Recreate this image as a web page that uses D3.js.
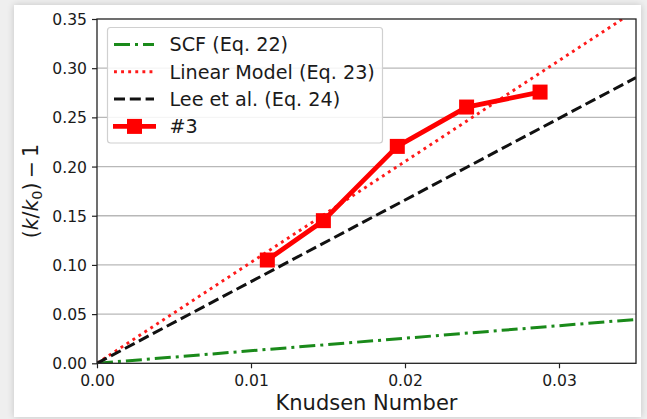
<!DOCTYPE html>
<html>
<head>
<meta charset="utf-8">
<script src="https://cdn.jsdelivr.net/npm/d3@7"></script>
<style>
  html, body { margin: 0; padding: 0; background: #efefef; }
  #wrap { position: relative; width: 647px; height: 419px; overflow: hidden; }
  #panel { position: absolute; left: 14px; top: 5px; width: 627px; height: 412px;
           background: #fff; box-shadow: 0 0 7px rgba(0,0,0,0.18); }
  svg { position: absolute; left: 0; top: 0; font-family: "DejaVu Sans", sans-serif; }
</style>
</head>
<body>
<div id="wrap"><div id="panel"></div></div>
<script>
// data
const measKn = [0.01106, 0.0147, 0.0195, 0.0240, 0.02877];
const measK = [0.105, 0.145, 0.2205, 0.2605, 0.2757];
const modelKn = [0, 0.035];
const scfK = [0, 0.0446];
const linearK = [0, 0.359];
const leeK = [0, 0.2905];
const xTicks = [0, 0.01, 0.02, 0.03];
const yTicks = [0, 0.05, 0.1, 0.15, 0.2, 0.25, 0.3, 0.35];
const legendLabels = ["SCF (Eq. 22)", "Linear Model (Eq. 23)", "Lee et al. (Eq. 24)", "#3"];

const W = 647, H = 419;
const PLOT = { LEFT: 97, RIGHT: 636, TOP: 19, BOTTOM: 363.3 };

const svg = d3.select("#wrap").append("svg").attr("width", W).attr("height", H);

const x = d3.scaleLinear().domain([0, 0.035]).range([PLOT.LEFT, PLOT.RIGHT]);
const y = d3.scaleLinear().domain([0, 0.35]).range([PLOT.BOTTOM, PLOT.TOP]);

svg.append("clipPath").attr("id", "clip")
  .append("rect")
  .attr("x", PLOT.LEFT).attr("y", PLOT.TOP)
  .attr("width", PLOT.RIGHT - PLOT.LEFT).attr("height", PLOT.BOTTOM - PLOT.TOP);

// GRID (horizontal only)
svg.append("g")
  .selectAll("line")
  .data(yTicks.slice(1, -1))
  .enter()
  .append("line")
  .attr("x1", PLOT.LEFT).attr("x2", PLOT.RIGHT)
  .attr("y1", d => y(d)).attr("y2", d => y(d))
  .attr("stroke", "#b8b8b8").attr("stroke-width", 1.3);

// AXES
const xAxis = d3.axisBottom(x).tickValues(xTicks).tickFormat(d3.format(".2f")).tickSize(5).tickSizeOuter(0);
const yAxis = d3.axisLeft(y).tickValues(yTicks).tickFormat(d3.format(".2f")).tickSize(5).tickSizeOuter(0);

const gx = svg.append("g").attr("transform", `translate(0, ${PLOT.BOTTOM})`).call(xAxis);
const gy = svg.append("g").attr("transform", `translate(${PLOT.LEFT}, 0)`).call(yAxis);
[gx, gy].forEach(g => {
  g.select(".domain").remove();
  g.selectAll("line").attr("stroke", "#222").attr("stroke-width", 1.2);
  g.selectAll("text").attr("fill", "#1a1a1a").attr("font-size", 15.6)
    .attr("font-family", "DejaVu Sans, sans-serif");
});
gx.selectAll("text").attr("y", 8).attr("dy", "0.95em");
gy.selectAll("text").attr("x", -10).attr("dy", "0.36em");

// MODEL LINES
const line = d3.line().x(d => x(d[0])).y(d => y(d[1]));
const styles = [
  { vals: scfK, color: "#1a8a1a", width: 3, dash: "16,5,3,5" },
  { vals: linearK, color: "#ff1a1a", width: 2.9, dash: "2.9,4.2" },
  { vals: leeK, color: "#111", width: 3, dash: "11,4.8" }
];

const plot = svg.append("g").attr("clip-path", "url(#clip)");
plot.selectAll(".model")
  .data(styles)
  .enter()
  .append("path")
  .attr("class", "model")
  .attr("fill", "none")
  .attr("stroke", d => d.color)
  .attr("stroke-width", d => d.width)
  .attr("stroke-dasharray", d => d.dash)
  .attr("d", d => line(modelKn.map((k, i) => [k, d.vals[i]])));

// MEASURED #3
const meas = measKn.map((k, i) => [k, measK[i]]);
plot.append("path")
  .attr("fill", "none")
  .attr("stroke", "#ff0000")
  .attr("stroke-width", 4.8)
  .attr("stroke-linejoin", "round")
  .attr("d", line(meas));

const MS = 15;
svg.selectAll(".marker")
  .data(meas)
  .enter()
  .append("rect")
  .attr("class", "marker")
  .attr("x", d => x(d[0]) - MS / 2)
  .attr("y", d => y(d[1]) - MS / 2)
  .attr("width", MS).attr("height", MS)
  .attr("fill", "#ff0000");

// FRAME
svg.append("rect")
  .attr("x", PLOT.LEFT).attr("y", PLOT.TOP)
  .attr("width", PLOT.RIGHT - PLOT.LEFT).attr("height", PLOT.BOTTOM - PLOT.TOP)
  .attr("fill", "none").attr("stroke", "#222").attr("stroke-width", 1.3);

// LEGEND
const leg = svg.append("g");
leg.append("rect")
  .attr("x", 107.5).attr("y", 27.5).attr("width", 275).attr("height", 115.5)
  .attr("rx", 3)
  .attr("fill", "#fff").attr("fill-opacity", 0.85)
  .attr("stroke", "#d0d0d0").attr("stroke-width", 1.2);

const rowY = i => 44.5 + i * 27.3;
leg.selectAll(".hl")
  .data(styles)
  .enter()
  .append("line")
  .attr("x1", 114).attr("x2", 154)
  .attr("y1", (d, i) => rowY(i)).attr("y2", (d, i) => rowY(i))
  .attr("stroke", d => d.color)
  .attr("stroke-width", d => d.width)
  .attr("stroke-dasharray", d => d.dash);
leg.append("line")
  .attr("x1", 113).attr("x2", 156)
  .attr("y1", rowY(3)).attr("y2", rowY(3))
  .attr("stroke", "#ff0000").attr("stroke-width", 4.8);
leg.append("rect")
  .attr("x", 134.5 - MS / 2).attr("y", rowY(3) - MS / 2)
  .attr("width", MS).attr("height", MS).attr("fill", "#ff0000");

leg.selectAll(".lt")
  .data(legendLabels)
  .enter()
  .append("text")
  .attr("x", 169.5)
  .attr("y", (d, i) => rowY(i))
  .attr("dy", "0.36em")
  .attr("font-size", 19.2)
  .attr("fill", "#1a1a1a")
  .text(d => d);

// AXIS LABELS
svg.append("text")
  .attr("x", 366.5)
  .attr("y", 410)
  .attr("text-anchor", "middle")
  .attr("font-size", 21)
  .attr("fill", "#1a1a1a")
  .text("Knudsen Number");

const yl = svg.append("text")
  .attr("transform", `translate(38, ${(PLOT.TOP + PLOT.BOTTOM) / 2}) rotate(-90)`)
  .attr("text-anchor", "middle")
  .attr("font-size", 20.5)
  .attr("fill", "#1a1a1a");
yl.append("tspan").text("(");
yl.append("tspan").attr("font-style", "italic").text("k");
yl.append("tspan").text("/");
yl.append("tspan").attr("font-style", "italic").text("k");
yl.append("tspan").attr("font-size", 14.5).attr("dy", 4).text("0");
yl.append("tspan").attr("dy", -4).text(")\u2009\u2212\u20091");
</script>
</body>
</html>
